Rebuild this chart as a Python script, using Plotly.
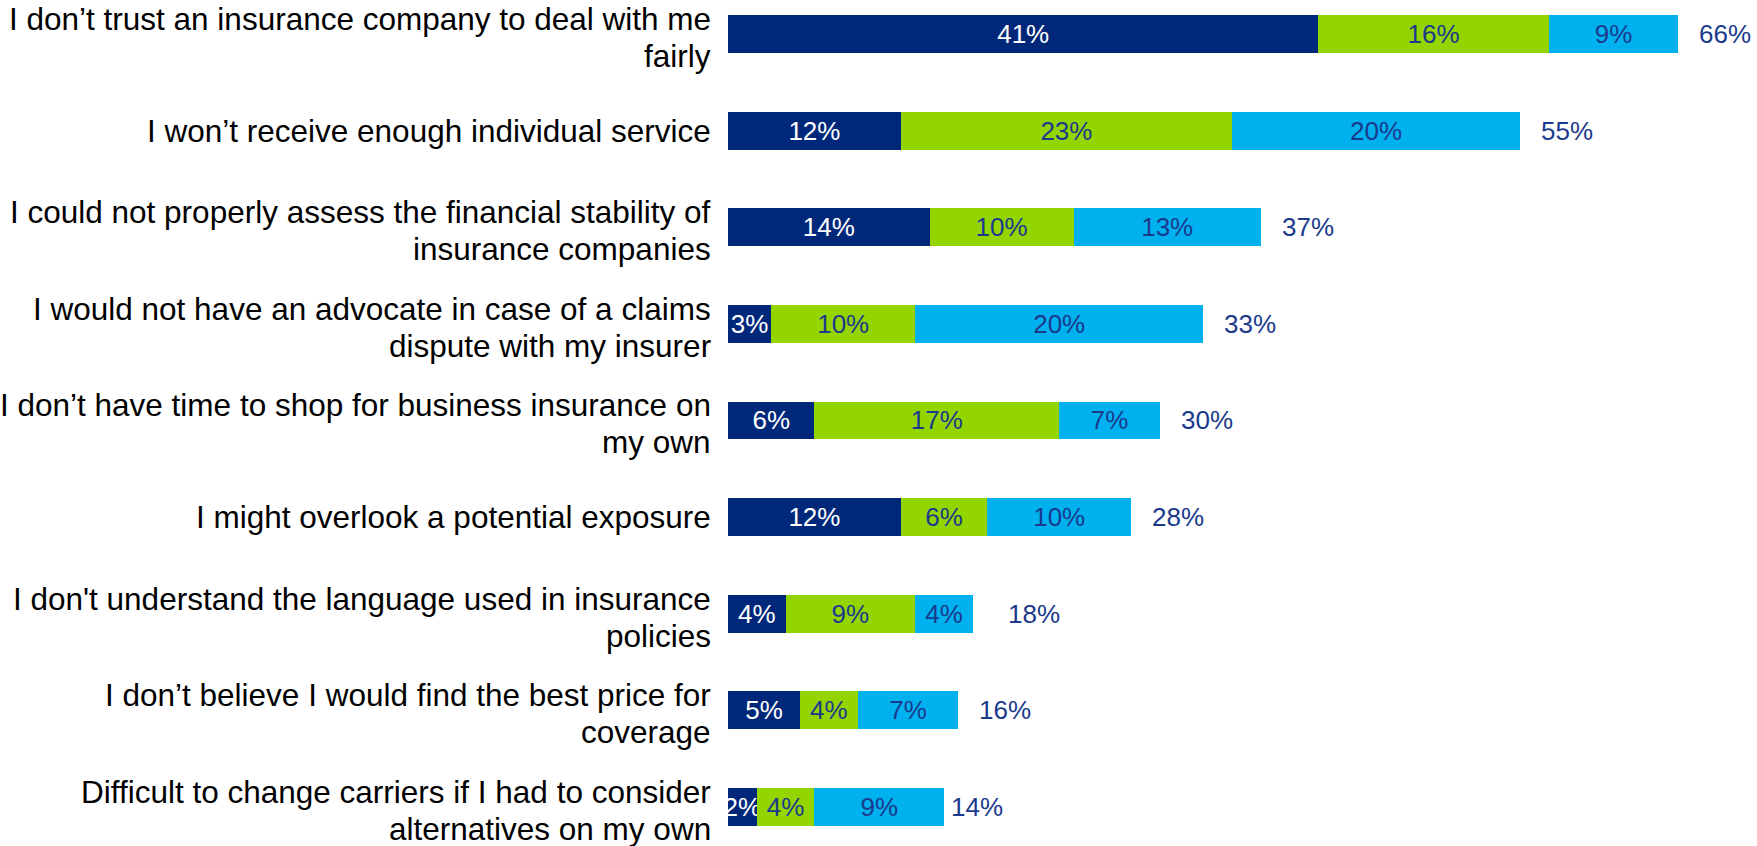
import plotly.graph_objects as go

# Reasons for not buying business insurance on one's own (share of respondents, %)
label_lines = [
    ["I don’t trust an insurance company to deal with me", "fairly"],
    ["I won’t receive enough individual service"],
    ["I could not properly assess the financial stability of", "insurance companies"],
    ["I would not have an advocate in case of a claims", "dispute with my insurer"],
    ["I don’t have time to shop for business insurance on", "my own"],
    ["I might overlook a potential exposure"],
    ["I don't understand the language used in insurance", "policies"],
    ["I don’t believe I would find the best price for", "coverage"],
    ["Difficult to change carriers if I had to consider", "alternatives on my own"],
]
categories = [" ".join(lines) for lines in label_lines]

strongly = [41, 12, 14, 3, 6, 12, 4, 5, 2]
somewhat = [16, 23, 10, 10, 17, 6, 9, 4, 4]
slightly = [9, 20, 13, 20, 7, 10, 4, 7, 9]
totals = [66, 55, 37, 33, 30, 28, 18, 16, 14]

NAVY = "#00287A"
GREEN = "#94D500"
SKY = "#00B1F0"
TEXT_NAVY = "#1B3A8C"
FONT = "Liberation Sans, Arial, sans-serif"

fig = go.Figure()
for values, color, text_color in [
    (strongly, NAVY, "white"),
    (somewhat, GREEN, TEXT_NAVY),
    (slightly, SKY, TEXT_NAVY),
]:
    fig.add_trace(go.Bar(
        x=values,
        y=categories,
        orientation="h",
        marker=dict(color=color, line=dict(width=0)),
        width=0.393,
        text=[f"{v}%" for v in values],
        textposition="inside",
        insidetextanchor="middle",
        textangle=0,
        constraintext="none",
        textfont=dict(family=FONT, size=26, color=text_color),
        hoverinfo="skip",
    ))

annotations = []
# Category labels, one annotation per line, right-aligned against the bars
line_offsets = {1: [0], 2: [-15, 22]}
for cat, lines in zip(categories, label_lines):
    for line, offset in zip(lines, line_offsets[len(lines)]):
        annotations.append(dict(
            x=0, y=cat, xref="x", yref="y",
            text=line, showarrow=False,
            xanchor="right", yanchor="middle",
            xshift=-15, yshift=-offset,
            font=dict(family=FONT, size=31.5, color="black"),
        ))

# Total labels to the right of each bar
for cat, tot in zip(categories, totals):
    annotations.append(dict(
        x=tot, y=cat, xref="x", yref="y",
        text=f"{tot}%", showarrow=False,
        xanchor="left", yanchor="middle",
        xshift=19,
        font=dict(family=FONT, size=26, color=TEXT_NAVY),
    ))

fig.update_layout(
    width=1757, height=846,
    margin=dict(l=728, r=0, t=0, b=0),
    barmode="stack",
    showlegend=False,
    plot_bgcolor="white",
    paper_bgcolor="white",
    uniformtext=dict(minsize=26, mode="show"),
    annotations=annotations,
    xaxis=dict(range=[0, 1029 / 14.4], visible=False, fixedrange=True),
    yaxis=dict(
        type="category",
        range=[8.404, -0.352],
        showticklabels=False,
        showgrid=False,
        zeroline=False,
        fixedrange=True,
    ),
)

fig.write_html("out.html", config={"displayModeBar": False})
